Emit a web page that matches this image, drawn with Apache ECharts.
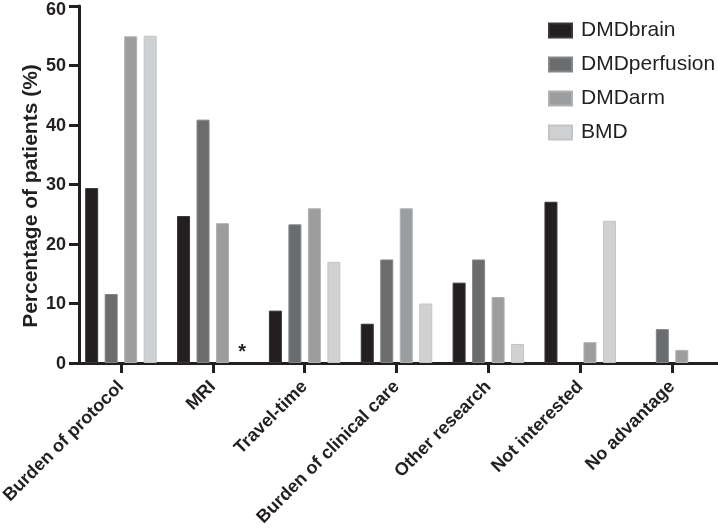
<!DOCTYPE html>
<html>
<head>
<meta charset="utf-8">
<script src="https://cdn.jsdelivr.net/npm/echarts@6/dist/echarts.min.js"></script>
<style>html,body{margin:0;padding:0;background:#fff;}#c{width:718px;height:531px;}</style>
</head>
<body>
<div id="c"></div>
<script>
var categories = ['Burden of protocol', 'MRI', 'Travel-time', 'Burden of clinical care', 'Other research', 'Not interested', 'No advantage'];
var seriesNames = ['DMDbrain', 'DMDperfusion', 'DMDarm', 'BMD'];
var dmdBrain = [29.4, 24.7, 8.8, 6.6, 13.5, 27.1, 0];
var dmdPerfusion = [11.6, 40.9, 23.3, 17.4, 17.4, 0, 5.7];
var dmdArm = [54.9, 23.5, 26.0, 26.0, 11.1, 3.5, 2.2];
var bmd = [55.0, 0, 17.0, 10.0, 3.2, 23.9, 0];
var yTicks = [0, 10, 20, 30, 40, 50, 60];
var yTitle = 'Percentage of patients (%)';
var asteriskIndex = 1; // BMD in MRI marked with *

var colors = ['#231f20', '#6b6c6e', '#9c9d9f', '#d0d1d3'];
var borders = ['#3a3637', '#848587', '#b0b1b3', '#c3c4c6'];
var font = 'Liberation Sans, Arial, Helvetica, sans-serif';
var ink = '#231f20';

function mk(name, data, i) {
  var d = data.map(function (v, k) {
    var item = { value: v };
    if (v === 0) item.itemStyle = { borderWidth: 0, opacity: 0 };
    if (name === 'BMD' && k === asteriskIndex) {
      item.label = { show: true, position: 'top', formatter: '*', distance: 1, color: ink, fontSize: 20, fontWeight: 'bold', fontFamily: font, opacity: 1 };
    }
    return item;
  });
  return {
    name: name, type: 'bar', data: d, barWidth: 13, barGap: '50%',
    itemStyle: { color: colors[i], borderColor: borders[i], borderWidth: 1 },
    emphasis: { disabled: true }
  };
}

var yMax = yTicks[yTicks.length - 1];
var chart = echarts.init(document.getElementById('c'), null, { renderer: 'canvas' });
chart.setOption({
  animation: false,
  textStyle: { fontFamily: font },
  grid: { left: 75, right: 0, top: 6, bottom: 168, containLabel: false, outerBoundsMode: 'none' },
  legend: {
    orient: 'vertical', left: 543, top: 15,
    itemWidth: 23, itemHeight: 14, itemGap: 13,
    icon: 'rect',
    textStyle: { fontSize: 21, color: ink, fontFamily: font, padding: [0, 0, 0, 4] },
    data: seriesNames
  },
  graphic: [{
    type: 'text', x: 31, y: 196, rotation: Math.PI / 2,
    style: { text: yTitle, fill: ink, font: 'bold 21px ' + font, align: 'center', verticalAlign: 'middle' }
  }],
  xAxis: {
    type: 'category', data: categories,
    axisLine: { lineStyle: { color: ink, width: 3 } },
    axisTick: { show: true, alignWithLabel: true, length: 10, lineStyle: { color: ink, width: 3 } },
    axisLabel: { rotate: 45, interval: 0, margin: 21, fontSize: 18, fontWeight: 'bold', color: ink, fontFamily: font }
  },
  yAxis: {
    type: 'value', min: yTicks[0], max: yMax, interval: 10, offset: -4,
    splitLine: { show: false },
    axisLine: { show: true, lineStyle: { color: ink, width: 3 } },
    axisTick: { show: true, length: 10, lineStyle: { color: ink, width: 3 } },
    axisLabel: {
      margin: 13, fontSize: 18, fontWeight: 'bold', color: ink, fontFamily: font,
      formatter: function (v) { return v === yMax ? '{t|' + v + '}' : '{n|' + v + '}'; },
      rich: {
        t: { fontSize: 18, fontWeight: 'bold', color: ink, fontFamily: font, padding: [8, 0, 0, 0] },
        n: { fontSize: 18, fontWeight: 'bold', color: ink, fontFamily: font, padding: [2, 0, 0, 0] }
      }
    }
  },
  series: [mk('DMDbrain', dmdBrain, 0), mk('DMDperfusion', dmdPerfusion, 1), mk('DMDarm', dmdArm, 2), mk('BMD', bmd, 3)]
});
</script>
</body>
</html>
